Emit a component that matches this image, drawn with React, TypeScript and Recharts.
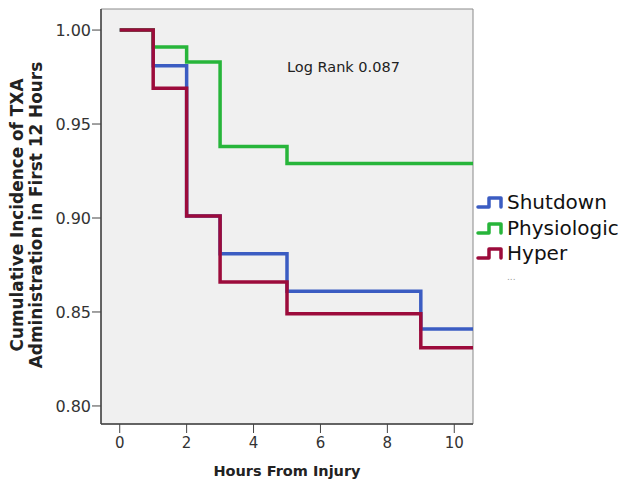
import React from "react";
import {
  LineChart,
  Line,
  XAxis,
  YAxis,
  CartesianGrid,
  ReferenceArea,
} from "recharts";

const hours = [0, 1, 2, 3, 5, 9, 12];
const shutdown = [1.0, 0.981, 0.901, 0.881, 0.861, 0.841, 0.841];
const physiologic = [1.0, 0.991, 0.983, 0.938, 0.929, 0.929, 0.929];
const hyper = [1.0, 0.969, 0.901, 0.866, 0.849, 0.831, 0.831];

const xTicks = [0, 2, 4, 6, 8, 10];
const yTicks = [0.8, 0.85, 0.9, 0.95, 1.0];

const seriesNames = ["Shutdown", "Physiologic", "Hyper"];
const seriesColors = ["#3b5cc2", "#27b53a", "#9c0b3b"];

const data = hours.map((h, i) => ({
  h,
  Shutdown: shutdown[i],
  Physiologic: physiologic[i],
  Hyper: hyper[i],
}));

const FONT = "'DejaVu Sans', sans-serif";

function StepIcon({ color }: { color: string }) {
  return (
    <svg width={31} height={16} style={{ display: "block" }}>
      <path
        d="M2 13 H13 V4 H25 V13"
        fill="none"
        stroke={color}
        strokeWidth={3.5}
        strokeLinejoin="round"
        strokeLinecap="round"
      />
    </svg>
  );
}

export default function App() {
  return (
    <div
      style={{
        position: "absolute",
        left: 0,
        top: 0,
        width: 632,
        height: 487,
        background: "#fff",
        fontFamily: FONT,
      }}
    >
      <LineChart
        width={632}
        height={487}
        data={data}
        margin={{ top: 9, right: 159, bottom: 0, left: 41 }}
      >
        <CartesianGrid horizontal={false} vertical={false} fill="#f0f0f0" />
        <ReferenceArea
          x1={-0.56}
          x2={10.56}
          y1={0.7904}
          y2={1.0112}
          fill="none"
          stroke="#8a8a8a"
          strokeWidth={1}
          ifOverflow="visible"
        />
        <XAxis
          dataKey="h"
          type="number"
          domain={[-0.56, 10.56]}
          allowDataOverflow
          ticks={xTicks}
          height={63}
          tickSize={9}
          tickLine={{ stroke: "#444" }}
          axisLine={{ stroke: "#444", strokeWidth: 1.5 }}
          tick={{ fill: "#333", fontSize: 15, fontFamily: FONT }}
          tickMargin={4}
          label={{
            value: "Hours From Injury",
            position: "insideBottom",
            offset: 11,
            style: {
              fontFamily: FONT,
              fontSize: 14.5,
              fontWeight: "bold",
              fill: "#222",
            },
          }}
        />
        <YAxis
          type="number"
          domain={[0.7904, 1.0112]}
          allowDataOverflow
          ticks={yTicks}
          width={60}
          tickSize={9}
          tickLine={{ stroke: "#444" }}
          axisLine={{ stroke: "#444", strokeWidth: 1.5 }}
          tick={{ fill: "#333", fontSize: 16, fontFamily: FONT }}
          tickMargin={1}
          tickFormatter={(v: number) => v.toFixed(2)}
        />
        {seriesNames.map((name, i) => (
          <Line
            key={name}
            dataKey={name}
            type="stepAfter"
            stroke={seriesColors[i]}
            strokeWidth={3.5}
            dot={false}
            isAnimationActive={false}
          />
        ))}
      </LineChart>

      {/* Y axis title */}
      <div
        style={{
          position: "absolute",
          left: 27,
          top: 215,
          transform: "translate(-50%, -50%) rotate(-90deg)",
          whiteSpace: "nowrap",
          textAlign: "center",
          fontFamily: FONT,
          fontWeight: "bold",
          fontSize: 16.9,
          lineHeight: "19px",
          color: "#222",
        }}
      >
        <div>Cumulative Incidence of TXA</div>
        <div>Administration in First 12 Hours</div>
      </div>

      {/* annotation */}
      <div
        style={{
          position: "absolute",
          left: 287,
          top: 59,
          fontFamily: FONT,
          fontSize: 14.5,
          color: "#222",
          whiteSpace: "nowrap",
        }}
      >
        Log Rank 0.087
      </div>

      {/* legend */}
      <div style={{ position: "absolute", left: 476, top: 189 }}>
        {seriesNames.map((name, i) => (
          <div
            key={name}
            style={{
              display: "flex",
              alignItems: "center",
              height: 25.8,
              fontFamily: FONT,
              fontSize: 20,
              color: "#111",
              whiteSpace: "nowrap",
            }}
          >
            <StepIcon color={seriesColors[i]} />
            <span>{name}</span>
          </div>
        ))}
        <div
          style={{
            marginLeft: 31,
            marginTop: 6,
            fontFamily: FONT,
            fontSize: 9,
            color: "#999",
            lineHeight: "10px",
          }}
        >
          ...
        </div>
      </div>
    </div>
  );
}
